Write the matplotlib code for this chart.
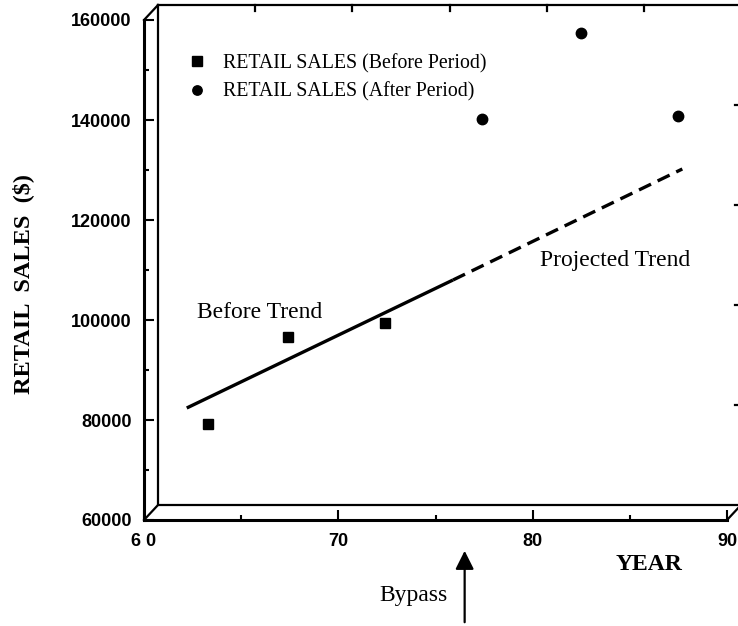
import matplotlib.pyplot as plt
from matplotlib.ticker import MultipleLocator

# data
before_years = [63.3, 67.4, 72.4]
before_sales = [79200, 96600, 99400]
after_years = [77.4, 82.5, 87.5]
after_sales = [140200, 157400, 140800]
trend_years = [62.2, 75.9]
trend_sales = [82400, 108000]
proj_years = [75.9, 87.7]
proj_sales = [108000, 130200]
bypass_year = 76.5

xticks = [60, 70, 80, 90]
xtick_labels = ['6 0', '70', '80', '90']
yticks = [60000, 80000, 100000, 120000, 140000, 160000]

serif = 'Liberation Serif'
sans = 'Liberation Sans'

fig = plt.figure(figsize=(7.38, 6.26), dpi=100)
ax = fig.add_axes([144 / 738, 106 / 626, 583 / 738, 500 / 626])

# depth offset of the back wall (axes fraction)
dx = 14 / 583
dy = 15 / 500

ax.plot(trend_years, trend_sales, color='black', lw=2.4, solid_capstyle='butt')
ax.plot(proj_years, proj_sales, color='black', lw=2.4, linestyle=(0, (4.0, 2.2)))
ax.plot(before_years, before_sales, 's', color='black', markersize=7.5, label='RETAIL SALES (Before Period)')
ax.plot(after_years, after_sales, 'o', color='black', markersize=7.5, label='RETAIL SALES (After Period)')

ax.set_xlim(60, 90)
ax.set_ylim(60000, 160000)
ax.set_xticks(xticks)
ax.set_xticklabels(xtick_labels)
ax.set_yticks(yticks)
ax.xaxis.set_minor_locator(MultipleLocator(5))
ax.yaxis.set_minor_locator(MultipleLocator(10000))
ax.tick_params(which='major', direction='in', length=7, width=1.5, pad=9)
ax.tick_params(which='minor', direction='in', length=3.5, width=1.5)
for lab in ax.get_xticklabels() + ax.get_yticklabels():
    lab.set_fontfamily(sans)
    lab.set_fontweight('bold')
    lab.set_fontsize(13)

for s in ['top', 'right']:
    ax.spines[s].set_visible(False)
for s in ['left', 'bottom']:
    ax.spines[s].set_linewidth(2.2)

# back wall of the 3D frame
kw = dict(transform=ax.transAxes, color='black', lw=1.6, clip_on=False)
ax.plot([dx, dx, 1 + dx], [1 + dy, dy, dy], **kw)
ax.plot([dx, 1 + dx, 1 + dx], [1 + dy, 1 + dy, dy], **kw)
ax.plot([0, dx], [0, dy], **kw)
ax.plot([0, dx], [1, 1 + dy], **kw)
ax.plot([1, 1 + dx], [0, dy], **kw)
for yr in [65, 70, 75, 80, 85]:
    xf = (yr - 60) / 30 + dx
    ax.plot([xf, xf], [1 + dy, 1 + dy - 6 / 500], **kw)
for v in [80000, 100000, 120000, 140000]:
    yf = (v - 60000) / 100000 + dy
    ax.plot([1 + dx, 1 + dx - 6 / 583], [yf, yf], **kw)

ax.legend(loc='upper left', bbox_to_anchor=(0.05, 0.968), frameon=False,
          handlelength=0.6, handletextpad=1.0, labelspacing=0.45,
          prop={'family': serif, 'size': 14.3}, markerscale=0.9)

ax.text(62.73, 101500, 'Before Trend', family=serif, fontsize=17, ha='left', va='center')
ax.text(84.24, 112000, 'Projected Trend', family=serif, fontsize=17, ha='center', va='center')

ax.text(0.866, -0.09, 'YEAR', transform=ax.transAxes, family=serif, fontweight='bold',
        fontsize=17, ha='center', va='center')
fig.text(23 / 738, 1 - 284 / 626, 'RETAIL  SALES  ($)', family=serif, fontweight='bold',
         fontsize=17.5, rotation=90, ha='center', va='center')

ax.annotate('', xy=(bypass_year, -0.056), xytext=(bypass_year, -0.21),
            xycoords=ax.get_xaxis_transform(), textcoords=ax.get_xaxis_transform(),
            arrowprops=dict(arrowstyle='-|>', color='black', lw=1.6, mutation_scale=28))
ax.text(75.6, -0.15, 'Bypass', transform=ax.get_xaxis_transform(), family=serif,
        fontsize=17, ha='right', va='center')

fig.savefig('out.png', dpi=100)
